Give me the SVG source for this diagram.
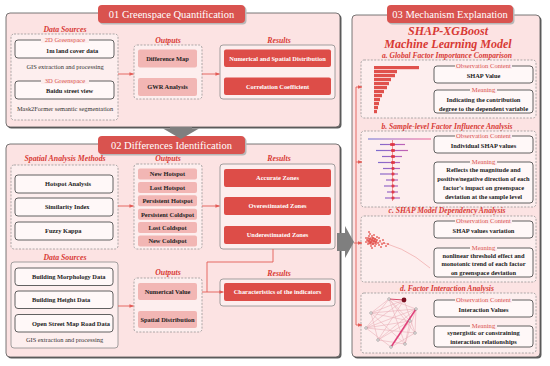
<svg xmlns="http://www.w3.org/2000/svg" width="550" height="366" viewBox="0 0 550 366">
<defs>
<style>
text{font-family:"Liberation Serif","Times New Roman",serif}
.pshadow{fill:#5e5e5e}
.panel{fill:#fce3e3;stroke:#555;stroke-width:0.8}
.tabs{fill:#b8b8b8}
.tab{fill:#d9534f}
.tabt{font-size:10.5px;fill:#fff;text-anchor:middle}
.lbl{font-size:7.8px;font-weight:bold;font-style:italic;fill:#d83a35;text-anchor:middle}
.dash{fill:#fdeeee;stroke:#8a8a8a;stroke-width:0.7;stroke-dasharray:2 1.4}
.solid{fill:#fdeeee;stroke:#8a8a8a;stroke-width:0.8}
.wbox{fill:#fff8f8;stroke:#505050;stroke-width:0.9}
.pbox{fill:#f2b6b4}
.rbox{fill:#dd4d48}
.tb{font-size:6.4px;font-weight:bold;fill:#222;text-anchor:middle}
.tl{font-size:6.4px;font-weight:bold;fill:#222}
.tw{font-size:6.4px;font-weight:bold;fill:#fff;text-anchor:middle}
.tn{font-size:6.4px;fill:#333;text-anchor:middle}
.bl{font-size:6.6px;fill:#d9534f;text-anchor:middle}
.gap{fill:#fdeeee}
.conn{stroke:#e35b56;stroke-width:0.9;fill:none}
.garrow{fill:#7f7f7f}
.h3{font-size:12px;font-weight:bold;font-style:italic;fill:#d83a35;text-anchor:middle}
.sec{font-size:7.6px;font-weight:bold;font-style:italic;fill:#d83a35;text-anchor:middle}
.bar{fill:#e0514c}
.bee{stroke:url(#beeg);stroke-width:1.2;fill:none;stroke-opacity:0.8}
.dot{fill:#e0403a;fill-opacity:0.75}
.edge{stroke:#eab0b8;stroke-width:0.6;fill:none}
.node{fill:#f4f0f0;stroke:#777;stroke-width:0.5}
</style>
<marker id="ah" viewBox="0 0 10 10" refX="9" refY="5" markerWidth="5" markerHeight="5" orient="auto"><path d="M0,1 L10,5 L0,9 z" fill="#e35b56"/></marker>
<linearGradient id="beeg" gradientUnits="userSpaceOnUse" x1="366" y1="0" x2="432" y2="0">
<stop offset="0" stop-color="#3a4fd0"/><stop offset="0.5" stop-color="#a040b0"/><stop offset="1" stop-color="#f0407a"/>
</linearGradient>
</defs>
<rect width="550" height="366" fill="#fff"/>

<!-- Panel 1 -->
<g id="panel1">
<rect class="pshadow" x="7.5" y="14.5" width="334" height="114" rx="4"/>
<rect class="panel" x="6" y="13" width="334" height="114" rx="4"/>
<rect class="tabs" x="99.5" y="6.5" width="147" height="18" rx="4"/>
<rect class="tab" x="98" y="5" width="147" height="18" rx="4"/>
<text class="tabt" x="171.5" y="18">01 Greenspace Quantification</text>
</g>
<g id="p1-sources">
<text class="lbl" x="65" y="31.5">Data Sources</text>
<rect class="dash" x="11" y="34" width="107" height="86" rx="3"/>
<rect class="wbox" x="15" y="40" width="99" height="18" rx="3"/>
<rect class="gap" x="41" y="37" width="48" height="6"/>
<text class="bl" x="65" y="42.3">2D Greenspace</text>
<text class="tl" x="46" y="52.5">1m land cover data</text>
<text class="tn" x="65" y="69">GIS extraction and processing</text>
<rect class="wbox" x="15" y="81" width="99" height="18" rx="3"/>
<rect class="gap" x="41" y="78" width="48" height="6"/>
<text class="bl" x="65" y="83.3">3D Greenspace</text>
<text class="tl" x="46" y="93">Baidu street view</text>
<text class="tn" x="65" y="111.3">Mask2Former semantic segmentation</text>
</g>
<g id="p1-outputs">
<text class="lbl" x="168" y="42.5">Outputs</text>
<rect class="dash" x="134" y="45" width="68" height="54" rx="3"/>
<rect class="pbox" x="138" y="49.5" width="59" height="18" rx="2"/>
<text class="tb" x="167.5" y="60.8">Difference Map</text>
<rect class="pbox" x="138" y="78" width="59" height="18" rx="2"/>
<text class="tb" x="167.5" y="89.3">GWR Analysis</text>
</g>
<g id="p1-results">
<text class="lbl" x="279" y="42.5">Results</text>
<rect class="solid" x="220" y="45" width="115" height="54" rx="3"/>
<rect class="rbox" x="224" y="49.5" width="107" height="17.5" rx="2"/>
<text class="tw" x="277.5" y="60.5">Numerical and Spatial Distribution</text>
<rect class="rbox" x="224" y="77.5" width="107" height="17.5" rx="2"/>
<text class="tw" x="277.5" y="88.5">Correlation Coefficient</text>
</g>

<!-- Panel 2 -->
<g id="panel2">
<rect class="pshadow" x="7.5" y="145.5" width="334" height="213" rx="4"/>
<rect class="panel" x="6" y="144" width="334" height="213" rx="4"/>
<rect class="tabs" x="99.5" y="137.5" width="147" height="18" rx="4"/>
<rect class="tab" x="98" y="136" width="147" height="18" rx="4"/>
<text class="tabt" x="171.5" y="149">02 Differences Identification</text>
</g>
<g id="p2-methods">
<text class="lbl" x="65" y="160.5">Spatial Analysis Methods</text>
<rect class="dash" x="11" y="165" width="107" height="84" rx="3"/>
<rect class="wbox" x="15" y="175" width="98" height="18" rx="3"/>
<text class="tl" x="45" y="186.3">Hotspot Analysis</text>
<rect class="wbox" x="15" y="198" width="98" height="18" rx="3"/>
<text class="tl" x="45" y="209.3">Similarity Index</text>
<rect class="wbox" x="15" y="222" width="98" height="18" rx="3"/>
<text class="tl" x="45" y="233.3">Fuzzy Kappa</text>
</g>
<g id="p2-outputs">
<text class="lbl" x="168" y="160.5">Outputs</text>
<rect class="dash" x="134" y="164" width="68" height="85" rx="3"/>
<rect class="pbox" x="138" y="168.5" width="59" height="11" rx="2"/>
<text class="tb" x="167.5" y="176.3">New Hotspot</text>
<rect class="pbox" x="138" y="181.9" width="59" height="11" rx="2"/>
<text class="tb" x="167.5" y="189.7">Lost Hotspot</text>
<rect class="pbox" x="138" y="195.3" width="59" height="11" rx="2"/>
<text class="tb" x="167.5" y="203.1">Persistent Hotspot</text>
<rect class="pbox" x="138" y="208.7" width="59" height="11" rx="2"/>
<text class="tb" x="167.5" y="216.5">Persistent Coldspot</text>
<rect class="pbox" x="138" y="222.1" width="59" height="11" rx="2"/>
<text class="tb" x="167.5" y="229.9">Lost Coldspot</text>
<rect class="pbox" x="138" y="235.5" width="59" height="11" rx="2"/>
<text class="tb" x="167.5" y="243.3">New Coldspot</text>
</g>
<g id="p2-results">
<text class="lbl" x="279" y="160.5">Results</text>
<rect class="solid" x="220" y="164" width="115" height="85" rx="3"/>
<rect class="rbox" x="224" y="169" width="107" height="18" rx="2"/>
<text class="tw" x="277.5" y="180.3">Accurate Zones</text>
<rect class="rbox" x="224" y="197" width="107" height="18" rx="2"/>
<text class="tw" x="277.5" y="208.3">Overestimated Zones</text>
<rect class="rbox" x="224" y="226" width="107" height="18" rx="2"/>
<text class="tw" x="277.5" y="237.3">Underestimated Zones</text>
</g>
<g id="p2-sources">
<text class="lbl" x="65" y="260">Data Sources</text>
<rect class="solid" x="11" y="262" width="107" height="86" rx="3"/>
<rect class="wbox" x="15" y="268" width="98" height="17.5" rx="3"/>
<text class="tl" x="32" y="279">Building Morphology Data</text>
<rect class="wbox" x="15" y="291" width="98" height="17.5" rx="3"/>
<text class="tl" x="32" y="302">Building Height Data</text>
<rect class="wbox" x="15" y="314.5" width="98" height="17.5" rx="3"/>
<text class="tl" x="32" y="325.5">Open Street Map Road Data</text>
<text class="tn" x="64.5" y="342">GIS extraction and processing</text>
</g>
<g id="p2-outputs2">
<text class="lbl" x="168" y="275">Outputs</text>
<rect class="dash" x="134" y="278" width="68" height="54" rx="3"/>
<rect class="pbox" x="138" y="283" width="59" height="17" rx="2"/>
<text class="tb" x="167.5" y="293.8">Numerical Value</text>
<rect class="pbox" x="138" y="311" width="59" height="17" rx="2"/>
<text class="tb" x="167.5" y="321.8">Spatial Distribution</text>
</g>
<g id="p2-results2">
<text class="lbl" x="279" y="275.5">Results</text>
<rect class="solid" x="220" y="279" width="115" height="27" rx="3"/>
<rect class="rbox" x="224" y="283" width="107" height="18" rx="2"/>
<text class="tw" x="277.5" y="294.3">Characteristics of the indicators</text>
</g>

<!-- Panel 3 -->
<g id="panel3">
<rect class="pshadow" x="353.5" y="16.5" width="188" height="342" rx="4"/>
<rect class="panel" x="352" y="15" width="188" height="342" rx="4"/>
<rect class="tabs" x="388.5" y="6.5" width="126" height="18" rx="4"/>
<rect class="tab" x="387" y="5" width="126" height="18" rx="4"/>
<text class="tabt" x="450" y="18">03 Mechanism Explanation</text>
<text class="h3" x="448" y="35">SHAP-XGBoost</text>
<text class="h3" x="448" y="48">Machine Learning Model</text>
</g>
<g id="p3-a">
<text class="sec" x="447" y="57.5">a. Global Factor Importance Comparison</text>
<rect class="dash" x="361" y="60" width="175" height="58" rx="3"/>
<rect class="bar" x="374" y="66" width="45" height="3.2"/>
<rect class="bar" x="374" y="70" width="23" height="3.2"/>
<rect class="bar" x="374" y="74" width="21" height="3.2"/>
<rect class="bar" x="374" y="78" width="17" height="3.2"/>
<rect class="bar" x="374" y="82" width="15" height="3.2"/>
<rect class="bar" x="374" y="86" width="13" height="3.2"/>
<rect class="bar" x="374" y="90" width="10" height="3.2"/>
<rect class="bar" x="374" y="94" width="8" height="3.2"/>
<rect class="bar" x="374" y="98" width="6" height="3.2"/>
<rect class="bar" x="374" y="102" width="5" height="3.2"/>
<rect class="bar" x="374" y="106" width="4" height="3.2"/>
<rect class="bar" x="374" y="110" width="3" height="3.2"/>
<rect class="wbox" x="434" y="66" width="99" height="17" rx="3"/>
<rect class="gap" x="455" y="63" width="57" height="6"/>
<text class="bl" x="483.5" y="68.3">Observation Content</text>
<text class="tb" x="483.5" y="77.8">SHAP Value</text>
<rect class="wbox" x="434" y="90" width="99" height="23" rx="3"/>
<rect class="gap" x="470" y="87" width="27" height="6"/>
<text class="bl" x="483.5" y="92.3">Meaning</text>
<text class="tb" x="483.5" y="102">Indicating the contribution</text>
<text class="tb" x="483.5" y="110.5">degree to the dependent variable</text>
</g>
<g id="p3-b">
<text class="sec" x="447" y="128.5">b. Sample-level Factor Influence Analysis</text>
<rect class="dash" x="361" y="131" width="175" height="76" rx="3"/>
<line class="bee" x1="368" y1="139" x2="431" y2="139" stroke-width="0.9"/>
<line class="bee" x1="380" y1="144.5" x2="405" y2="144.5"/>
<line class="bee" x1="376" y1="150.5" x2="408" y2="150.5"/>
<line class="bee" x1="382" y1="156.5" x2="402" y2="156.5"/>
<line class="bee" x1="378" y1="162.5" x2="400" y2="162.5"/>
<line class="bee" x1="383" y1="168.5" x2="400" y2="168.5"/>
<line class="bee" x1="380" y1="174" x2="398" y2="174"/>
<line class="bee" x1="386" y1="180" x2="398" y2="180"/>
<line class="bee" x1="384" y1="186" x2="398" y2="186"/>
<line class="bee" x1="387" y1="192" x2="398" y2="192"/>
<line class="bee" x1="385" y1="198" x2="400" y2="198"/>
<g fill="#e0303a" fill-opacity="0.85">
<rect x="390" y="143" width="5" height="3" rx="1"/>
<rect x="391" y="149" width="4" height="3" rx="1"/>
<rect x="391" y="155" width="4" height="3" rx="1"/>
<rect x="391" y="161" width="4" height="3" rx="1"/>
<rect x="391.5" y="167" width="3" height="3" rx="1"/>
<rect x="391.5" y="172.5" width="3" height="3" rx="1"/>
<rect x="391.5" y="178.5" width="3" height="3" rx="1"/>
<rect x="391.5" y="184.5" width="3" height="3" rx="1"/>
<rect x="391.5" y="190.5" width="3" height="3" rx="1"/>
<rect x="391.5" y="196.5" width="3" height="3" rx="1"/>
</g>
<line x1="392.5" y1="140" x2="392.5" y2="201" stroke="#e0303a" stroke-width="0.5"/>
<rect class="wbox" x="434" y="136" width="99" height="17" rx="3"/>
<rect class="gap" x="455" y="133" width="57" height="6"/>
<text class="bl" x="483.5" y="138.3">Observation Content</text>
<text class="tb" x="483.5" y="148">Individual SHAP values</text>
<rect class="wbox" x="434" y="162" width="99" height="41" rx="3"/>
<rect class="gap" x="470" y="159" width="27" height="6"/>
<text class="bl" x="483.5" y="164.3">Meaning</text>
<text class="tb" x="483.5" y="172.3">Reflects the magnitude and</text>
<text class="tb" x="483.5" y="181.3">positive/negative direction of each</text>
<text class="tb" x="483.5" y="190.3">factor's impact on greenspace</text>
<text class="tb" x="483.5" y="199">deviation at the sample level</text>
</g>
<g id="p3-c">
<text class="sec" x="447" y="212.5">c. SHAP Model Dependency Analysis</text>
<rect class="dash" x="361" y="216" width="175" height="66" rx="3"/>
<path d="M372,241 Q402,244 430,268" stroke="#ec9a9a" stroke-width="0.6" fill="none"/>
<ellipse cx="372" cy="241" rx="5" ry="4" fill="#e0403a" fill-opacity="0.6"/>
<g class="dot">
<circle cx="368" cy="238" r="1"/><circle cx="369" cy="241" r="1"/><circle cx="370" cy="239" r="1"/><circle cx="371" cy="242" r="1"/>
<circle cx="372" cy="240" r="1"/><circle cx="373" cy="238" r="1"/><circle cx="374" cy="241" r="1"/><circle cx="370" cy="243" r="1"/>
<circle cx="368" cy="244" r="1"/><circle cx="372" cy="236" r="1"/><circle cx="375" cy="239" r="1"/><circle cx="376" cy="242" r="1"/>
<circle cx="369" cy="236" r="1"/><circle cx="373" cy="244" r="1"/><circle cx="377" cy="240" r="1"/><circle cx="378" cy="243" r="1"/>
<circle cx="371" cy="246" r="1"/><circle cx="367" cy="240" r="1"/><circle cx="374" cy="235" r="1"/><circle cx="380" cy="241" r="1"/>
<circle cx="382" cy="244" r="1"/><circle cx="379" cy="238" r="1"/><circle cx="366" cy="242" r="1"/><circle cx="370" cy="234" r="1"/>
<circle cx="375" cy="246" r="1"/><circle cx="384" cy="243" r="1"/><circle cx="386" cy="246" r="1"/><circle cx="372" cy="248" r="1"/>
<circle cx="369" cy="232" r="1"/><circle cx="377" cy="237" r="1"/><circle cx="381" cy="247" r="1"/><circle cx="366" cy="238" r="1"/>
<circle cx="379" cy="245" r="1"/><circle cx="376" cy="244" r="1"/><circle cx="383" cy="240" r="1"/><circle cx="388" cy="244" r="1"/>
</g>
<rect class="wbox" x="434" y="221" width="99" height="17" rx="3"/>
<rect class="gap" x="455" y="218" width="57" height="6"/>
<text class="bl" x="483.5" y="223.3">Observation Content</text>
<text class="tb" x="483.5" y="233">SHAP values variation</text>
<rect class="wbox" x="434" y="248" width="99" height="29" rx="3"/>
<rect class="gap" x="470" y="245" width="27" height="6"/>
<text class="bl" x="483.5" y="250.3">Meaning</text>
<text class="tb" x="483.5" y="257.5">nonlinear threshold effect and</text>
<text class="tb" x="483.5" y="266.3">monotonic trend of each factor</text>
<text class="tb" x="483.5" y="275">on greenspace deviation</text>
</g>
<g id="p3-d">
<text class="sec" x="447" y="290.5">d. Factor Interaction Analysis</text>
<rect class="dash" x="361" y="293" width="175" height="60" rx="3"/>
<g class="edge">
<path d="M389,299 L416,309 M389,299 L371,313 M389,299 L366,328 M389,299 L405,344 M389,299 L415,333 M389,299 L410,321"/>
<path d="M404,300 L371,313 M404,300 L378,340 M404,300 L415,333 M404,300 L366,328"/>
<path d="M416,309 L371,313 M416,309 L366,328 M416,309 L378,340 M416,309 L405,344 M416,309 L415,333"/>
<path d="M371,313 L410,321 M371,313 L405,344 M371,313 L378,340 M366,328 L410,321 M366,328 L415,333 M366,328 L391,347"/>
<path d="M378,340 L410,321 M378,340 L405,344 M391,347 L410,321 M391,347 L415,333 M405,344 L410,321"/>
</g>
<line x1="389" y1="299" x2="404" y2="300" stroke="#d84a6a" stroke-width="1"/>
<line x1="391" y1="347" x2="416" y2="309" stroke="#e0407a" stroke-width="1.5"/>
<g class="node">
<circle cx="389" cy="299" r="1.3"/><circle cx="416" cy="309" r="1.3"/><circle cx="371" cy="313" r="1.3"/>
<circle cx="366" cy="328" r="1.3"/><circle cx="378" cy="340" r="1.3"/><circle cx="391" cy="347" r="1.3"/>
<circle cx="405" cy="344" r="1.3"/><circle cx="415" cy="333" r="1.3"/><circle cx="410" cy="321" r="1.3"/>
</g>
<circle cx="404" cy="300" r="2.4" fill="#7a0f1f"/>
<rect class="wbox" x="434" y="300" width="99" height="17" rx="3"/>
<rect class="gap" x="455" y="297" width="57" height="6"/>
<text class="bl" x="483.5" y="302.3">Observation Content</text>
<text class="tb" x="483.5" y="312">Interaction Values</text>
<rect class="wbox" x="434" y="326" width="99" height="21" rx="3"/>
<rect class="gap" x="470" y="323" width="27" height="6"/>
<text class="bl" x="483.5" y="328.3">Meaning</text>
<text class="tb" x="483.5" y="335">synergistic or constraining</text>
<text class="tb" x="483.5" y="344">interaction relationships</text>
</g>

<!-- Connectors -->
<g id="connectors">
<polygon class="garrow" points="170,127 192,127 192,128.5 199,128.5 181,139 163,128.5 170,128.5"/>
<polygon class="garrow" points="337,233 345,233 345,226 354,242 345,258 345,251 337,251"/>
<path class="conn" d="M118,74 H133.5" marker-end="url(#ah)"/>
<path class="conn" d="M202,74 H219.5" marker-end="url(#ah)"/>
<path class="conn" d="M118,206 H133.5" marker-end="url(#ah)"/>
<path class="conn" d="M202,206 H219.5" marker-end="url(#ah)"/>
<path class="conn" d="M118,306 H133.5" marker-end="url(#ah)"/>
<path class="conn" d="M202,292 H223.5" marker-end="url(#ah)"/>
<path class="conn" d="M273,249 V262 H207 V292"/>
<path class="conn" d="M356,87 V325"/>
<path class="conn" d="M356,87 H362" marker-end="url(#ah)"/>
<path class="conn" d="M356,162 H362" marker-end="url(#ah)"/>
<path class="conn" d="M354,243 H362" marker-end="url(#ah)"/>
<path class="conn" d="M356,325 H362" marker-end="url(#ah)"/>
</g>
</svg>
